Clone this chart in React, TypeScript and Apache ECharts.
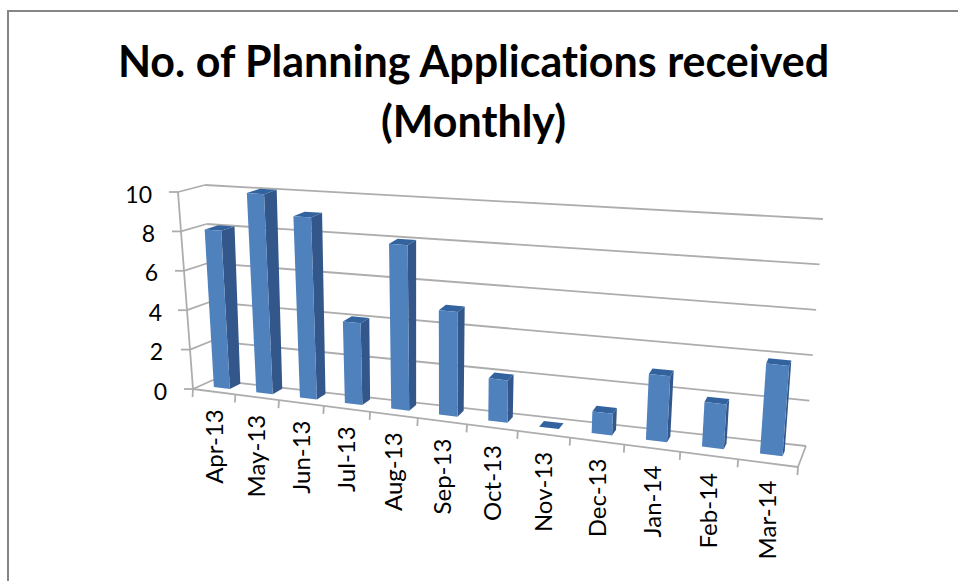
import React, { useEffect, useRef } from "react";
import * as echarts from "echarts";

const categories = ["Apr-13","May-13","Jun-13","Jul-13","Aug-13","Sep-13","Oct-13","Nov-13","Dec-13","Jan-14","Feb-14","Mar-14"];
const values = [8,10,9,4,8,5,2,0,1,3,2,4];
const yTicks = [0,2,4,6,8,10];
const titleText = "No. of Planning Applications received\n(Monthly)";

type P = [number, number];
const F00: P = [193,389], F10: P = [798,467], B00: P = [213,380], B10: P = [806,446];
const F01: P = [178,192], F11: P = [816,240], B01: P = [205,185], B11: P = [823,219];

const warp = (u: number) => ((467.7*u + 193)/(1 - 0.172*u) - 193)/605;
const mix = (a: P, b: P, t: number): P => [a[0]+(b[0]-a[0])*t, a[1]+(b[1]-a[1])*t];
// u across categories, v up the value axis, d into the depth of the floor
function proj(u: number, v: number, d: number): P {
  const s = warp(u);
  const front = mix(mix(F00,F10,s), mix(F01,F11,s), v);
  const back = mix(mix(B00,B10,s), mix(B01,B11,s), v);
  return mix(front, back, d);
}
const n = categories.length;
const GRID = { left: 176, top: 192, width: 600, height: 197 };
const LINE = "#adadad";
const yLabelShift: Record<string, number> = { "0": 0, "2": 4, "4": 5, "6": 9, "8": 12, "10": 15 };
const FONT = "Lato";

const uvOf = (api: any, params: any, x: number, y: number): [number, number] => {
  const p = api.coord([x, y]);
  const c = params.coordSys;
  return [(p[0]-c.x)/c.width, (c.y+c.height-p[1])/c.height];
};
const poly = (points: P[], fill: string) => ({ type: "polygon", shape: { points }, style: { fill } });
const seg = (a: P, b: P, w = 1.8) => ({ type: "line", shape: { x1:a[0], y1:a[1], x2:b[0], y2:b[1] }, style: { stroke: LINE, lineWidth: w } });

export default function App() {
  const ref = useRef<HTMLDivElement>(null);
  useEffect(() => {
    const chart = echarts.init(ref.current!, undefined, { renderer: "svg" });
    const rich: any = {};
    yTicks.forEach((t) => {
      rich["p" + t] = { fontFamily: FONT, fontSize: 23, color: "#000", padding: [3, yLabelShift[String(t)], 0, 0] };
    });
    chart.setOption({
      animation: false,
      backgroundColor: "#fff",
      title: {
        text: titleText, left: 473.5, top: 30.5, textAlign: "center", padding: 0,
        textStyle: { fontFamily: FONT, fontWeight: "bold", fontSize: 43, lineHeight: 60, color: "#000" },
      },
      grid: GRID,
      xAxis: { type: "category", data: categories, show: false },
      yAxis: {
        type: "value", min: 0, max: 10, interval: 2,
        axisLine: { show: false }, axisTick: { show: false }, splitLine: { show: false },
        axisLabel: { margin: 9, rich, formatter: (val: number) => `{p${val}|${val}}` },
      },
      graphic: [{ type: "polyline", shape: { points: [[8,581],[8,11],[958,11]] }, style: { fill: "none", stroke: "#868686", lineWidth: 2 } }],
      series: [
        {
          type: "custom", silent: true, z: 1,
          data: yTicks.map((t) => [0, t]),
          renderItem: (params: any, api: any) => {
            const [, v] = uvOf(api, params, 0, api.value(1));
            const a = proj(0,v,0);
            return { type: "group", children: [
              seg(a, proj(0,v,1)),
              seg(proj(0,v,1), proj(1,v,1)),
              seg([a[0]-9, a[1]], a),
            ] };
          },
        },
        {
          type: "custom", silent: true, z: 2,
          data: [[0, 0]],
          renderItem: () => ({ type: "group", children: [
            seg(proj(0,0,0), proj(0,1,0)),
            seg(proj(0,0,0), proj(1,0,0)),
            seg(proj(1,0,0), proj(1,0,1)),
            ...Array.from({ length: n+1 }, (_, i) => { const a = proj(i/n,0,0); return seg(a, [a[0]-0.5, a[1]+8]); }),
          ] }),
        },
        {
          type: "custom", silent: true, z: 3,
          data: values.map((v, i) => [i, v]),
          renderItem: (params: any, api: any) => {
            const i = api.value(0);
            const [uc, v] = uvOf(api, params, i, api.value(1));
            const w = 0.19/n, d0 = 0.4, d1 = 0.95 - 0.3*uc;
            const u0 = uc-w, u1 = uc+w;
            return { type: "group", children: [
              poly([proj(u1,0,d0), proj(u1,0,d1), proj(u1,v,d1), proj(u1,v,d0)], "#33578a"),
              poly([proj(u0,v,d0), proj(u1,v,d0), proj(u1,v,d1), proj(u0,v,d1)], "#33639f"),
              poly([proj(u0,0,d0), proj(u1,0,d0), proj(u1,v,d0), proj(u0,v,d0)], "#4f81bd"),
            ] };
          },
        },
        {
          type: "custom", silent: true, z: 4,
          data: categories.map((c, i) => [i, 0, c]),
          renderItem: (params: any, api: any) => {
            const i = api.value(0);
            const [uc] = uvOf(api, params, i, 0);
            const p = proj(uc,0,0);
            return {
              type: "text", x: p[0]-1, y: p[1]+17.5, rotation: Math.PI/2,
              style: { text: categories[i], fontFamily: FONT, fontSize: 24, fill: "#000", align: "right", verticalAlign: "middle" },
            };
          },
        },
      ],
    });
    return () => chart.dispose();
  }, []);
  return <div ref={ref} style={{ position: "absolute", left: 0, top: 0, width: 958, height: 581, fontVariantLigatures: "none" }} />;
}
